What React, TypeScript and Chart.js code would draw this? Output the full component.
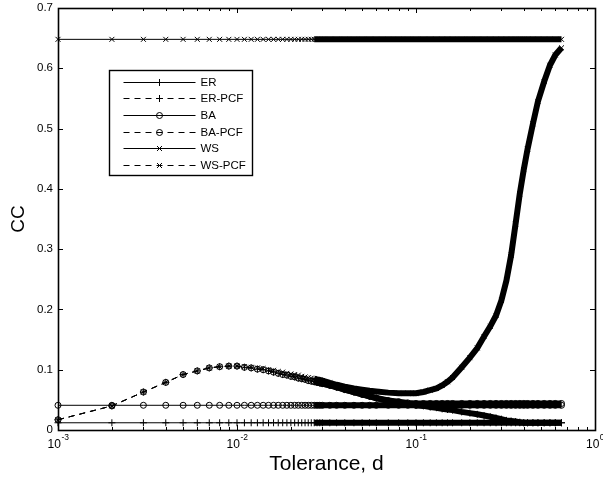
import React, { useEffect, useRef } from "react";
import { Chart, registerables } from "chart.js";

Chart.register(...registerables);

// ---------------- data ----------------
const tolerance = [
  0.001, 0.002, 0.003, 0.004, 0.005, 0.006, 0.007, 0.008, 0.009, 0.010,
  0.011, 0.012, 0.013, 0.014, 0.015, 0.016, 0.017, 0.018, 0.019, 0.020,
  0.021, 0.022, 0.023, 0.024, 0.025, 0.026, 0.027, 0.028, 0.029, 0.030,
  0.033, 0.036, 0.040, 0.045, 0.050, 0.055, 0.060, 0.070, 0.080, 0.090, 0.100,
  0.11, 0.12, 0.13, 0.14, 0.15, 0.16, 0.18, 0.20, 0.22, 0.24,
  0.26, 0.28, 0.30, 0.32, 0.34, 0.36, 0.38, 0.40, 0.42, 0.45,
  0.48, 0.52, 0.56, 0.60, 0.65,
];

const ccER = [
  0.012, 0.012, 0.012, 0.012, 0.012, 0.012, 0.012, 0.012, 0.012, 0.012,
  0.012, 0.012, 0.012, 0.012, 0.012, 0.012, 0.012, 0.012, 0.012, 0.012,
  0.012, 0.012, 0.012, 0.012, 0.012, 0.012, 0.012, 0.012, 0.012, 0.012,
  0.012, 0.012, 0.012, 0.012, 0.012, 0.012, 0.012, 0.012, 0.012, 0.012, 0.012,
  0.012, 0.012, 0.012, 0.012, 0.012, 0.012, 0.012, 0.012, 0.012, 0.012,
  0.012, 0.012, 0.012, 0.012, 0.012, 0.012, 0.012, 0.012, 0.012, 0.012,
  0.012, 0.012, 0.012, 0.012, 0.012,
];

const ccERPCF = [
  0.017, 0.040, 0.063, 0.079, 0.092, 0.098, 0.103, 0.105, 0.106, 0.106,
  0.104, 0.103, 0.101, 0.100, 0.098, 0.096, 0.094, 0.092, 0.091, 0.089,
  0.088, 0.086, 0.085, 0.084, 0.082, 0.081, 0.080, 0.079, 0.078, 0.077,
  0.074, 0.071, 0.067, 0.063, 0.059, 0.056, 0.053, 0.048, 0.045, 0.043, 0.041,
  0.040, 0.038, 0.037, 0.035, 0.034, 0.033, 0.030, 0.028, 0.026, 0.024,
  0.022, 0.020, 0.018, 0.016, 0.015, 0.014, 0.013, 0.012, 0.012, 0.012,
  0.012, 0.012, 0.012, 0.012, 0.012,
];

const ccBA = [
  0.041, 0.041, 0.041, 0.041, 0.041, 0.041, 0.041, 0.041, 0.041, 0.041,
  0.041, 0.041, 0.041, 0.041, 0.041, 0.041, 0.041, 0.041, 0.041, 0.041,
  0.041, 0.041, 0.041, 0.041, 0.041, 0.041, 0.041, 0.041, 0.041, 0.041,
  0.041, 0.041, 0.041, 0.041, 0.041, 0.041, 0.041, 0.041, 0.041, 0.041, 0.041,
  0.041, 0.041, 0.041, 0.041, 0.041, 0.041, 0.041, 0.041, 0.041, 0.041,
  0.041, 0.041, 0.041, 0.041, 0.041, 0.041, 0.041, 0.041, 0.041, 0.041,
  0.041, 0.041, 0.041, 0.041, 0.041,
];

const ccBAPCF = [
  0.017, 0.040, 0.063, 0.079, 0.092, 0.098, 0.103, 0.105, 0.106, 0.106,
  0.104, 0.103, 0.101, 0.100, 0.098, 0.096, 0.094, 0.092, 0.091, 0.089,
  0.088, 0.086, 0.085, 0.084, 0.082, 0.081, 0.080, 0.079, 0.078, 0.077,
  0.074, 0.071, 0.067, 0.063, 0.059, 0.056, 0.053, 0.049, 0.047, 0.045, 0.044,
  0.044, 0.044, 0.044, 0.044, 0.044, 0.044, 0.044, 0.044, 0.044, 0.044,
  0.044, 0.044, 0.044, 0.044, 0.044, 0.044, 0.044, 0.044, 0.044, 0.044,
  0.044, 0.044, 0.044, 0.044, 0.044,
];

const ccWS = [
  0.648, 0.648, 0.648, 0.648, 0.648, 0.648, 0.648, 0.648, 0.648, 0.648,
  0.648, 0.648, 0.648, 0.648, 0.648, 0.648, 0.648, 0.648, 0.648, 0.648,
  0.648, 0.648, 0.648, 0.648, 0.648, 0.648, 0.648, 0.648, 0.648, 0.648,
  0.648, 0.648, 0.648, 0.648, 0.648, 0.648, 0.648, 0.648, 0.648, 0.648, 0.648,
  0.648, 0.648, 0.648, 0.648, 0.648, 0.648, 0.648, 0.648, 0.648, 0.648,
  0.648, 0.648, 0.648, 0.648, 0.648, 0.648, 0.648, 0.648, 0.648, 0.648,
  0.648, 0.648, 0.648, 0.648, 0.648,
];

const ccWSPCF = [
  0.017, 0.040, 0.063, 0.079, 0.092, 0.098, 0.103, 0.105, 0.106, 0.106,
  0.105, 0.104, 0.103, 0.102, 0.100, 0.099, 0.097, 0.096, 0.094, 0.093,
  0.092, 0.091, 0.089, 0.088, 0.087, 0.086, 0.085, 0.084, 0.083, 0.082,
  0.078, 0.075, 0.072, 0.069, 0.067, 0.065, 0.064, 0.062, 0.061, 0.061, 0.061,
  0.063, 0.066, 0.069, 0.074, 0.080, 0.087, 0.104, 0.120, 0.136, 0.155,
  0.172, 0.190, 0.215, 0.248, 0.290, 0.342, 0.392, 0.432, 0.466, 0.508,
  0.545, 0.578, 0.605, 0.622, 0.634,
];

const seriesLabels = ["ER", "ER-PCF", "BA", "BA-PCF", "WS", "WS-PCF"];
const yTicks = [0, 0.1, 0.2, 0.3, 0.4, 0.5, 0.6, 0.7];
const yTickLabels = ["0", "0.1", "0.2", "0.3", "0.4", "0.5", "0.6", "0.7"];
const xTickExponents = ["-3", "-2", "-1", "0"];
const xMinorMultipliers = [2, 3, 4, 5, 6, 7, 8, 9];
const xTitle = "Tolerance, d";
const yTitle = "CC";

// ---------------- styles ----------------
const FONT = '"Liberation Sans", Arial, Helvetica, sans-serif';
const DASH = [6, 5];
const BAND_FROM = 0.027;

type Marker = "cross" | "circle" | "crossRot";
const styles: { marker: Marker; dashed: boolean; r: number }[] = [
  { marker: "cross", dashed: false, r: 3.5 },
  { marker: "cross", dashed: true, r: 3.5 },
  { marker: "circle", dashed: false, r: 3 },
  { marker: "circle", dashed: true, r: 3 },
  { marker: "crossRot", dashed: false, r: 3.5 },
  { marker: "crossRot", dashed: true, r: 3.5 },
];
const seriesValues = [ccER, ccERPCF, ccBA, ccBAPCF, ccWS, ccWSPCF];

function drawMarker(ctx: CanvasRenderingContext2D, m: Marker, x: number, y: number, r: number) {
  ctx.beginPath();
  if (m === "cross") {
    ctx.moveTo(x - r, y);
    ctx.lineTo(x + r, y);
    ctx.moveTo(x, y - r);
    ctx.lineTo(x, y + r);
  } else if (m === "crossRot") {
    const d = r * 0.7071;
    ctx.moveTo(x - d, y - d);
    ctx.lineTo(x + d, y + d);
    ctx.moveTo(x - d, y + d);
    ctx.lineTo(x + d, y - d);
  } else {
    ctx.arc(x, y, r, 0, Math.PI * 2);
  }
  ctx.stroke();
}

const framePlugin = {
  id: "matlabFrame",
  afterDraw(chart: any) {
    const { ctx, chartArea } = chart;
    const { left, right, top, bottom } = chartArea;
    const xs = chart.scales.x;
    const ys = chart.scales.y;
    ctx.save();
    ctx.strokeStyle = "#000";
    ctx.fillStyle = "#000";
    ctx.setLineDash([]);

    // box
    ctx.lineWidth = 1.6;
    ctx.strokeRect(left + 0.5, top + 0.5, right - left, bottom - top);

    // x ticks
    ctx.lineWidth = 1;
    const maj = 5;
    const mnr = 3;
    ctx.beginPath();
    xTickExponents.forEach((e) => {
      const base = Math.pow(10, Number(e));
      const px = Math.round(xs.getPixelForValue(base)) + 0.5;
      ctx.moveTo(px, bottom);
      ctx.lineTo(px, bottom - maj);
      ctx.moveTo(px, top);
      ctx.lineTo(px, top + maj);
      if (Number(e) < 0) {
        xMinorMultipliers.forEach((k) => {
          const mx = Math.round(xs.getPixelForValue(k * base)) + 0.5;
          ctx.moveTo(mx, bottom);
          ctx.lineTo(mx, bottom - mnr);
          ctx.moveTo(mx, top);
          ctx.lineTo(mx, top + mnr);
        });
      }
    });
    // y ticks
    yTicks.forEach((v) => {
      const py = Math.round(ys.getPixelForValue(v)) + 0.5;
      ctx.moveTo(left, py);
      ctx.lineTo(left + maj, py);
      ctx.moveTo(right, py);
      ctx.lineTo(right - maj, py);
    });
    ctx.stroke();

    // y tick labels
    ctx.font = `11.5px ${FONT}`;
    ctx.textAlign = "right";
    ctx.textBaseline = "middle";
    yTicks.forEach((v, i) => {
      const py = ys.getPixelForValue(v);
      ctx.fillText(yTickLabels[i], left - 5, py);
    });

    // x tick labels with superscript exponent
    ctx.textAlign = "left";
    ctx.textBaseline = "alphabetic";
    xTickExponents.forEach((e) => {
      const px = xs.getPixelForValue(Math.pow(10, Number(e)));
      ctx.font = `12px ${FONT}`;
      const w1 = ctx.measureText("10").width;
      ctx.font = `8.5px ${FONT}`;
      const w2 = ctx.measureText(e).width;
      const start = px - (w1 + w2) / 2;
      ctx.font = `12px ${FONT}`;
      ctx.fillText("10", start, bottom + 18);
      ctx.font = `8.5px ${FONT}`;
      ctx.fillText(e, start + w1 + 0.5, bottom + 10);
    });

    // axis titles
    ctx.font = `21px ${FONT}`;
    ctx.textAlign = "center";
    ctx.textBaseline = "alphabetic";
    ctx.fillText(xTitle, (left + right) / 2, bottom + 40);
    ctx.save();
    ctx.translate(19, (top + bottom) / 2);
    ctx.rotate(-Math.PI / 2);
    ctx.font = `19px ${FONT}`;
    ctx.textBaseline = "middle";
    ctx.fillText(yTitle, 0, 0);
    ctx.restore();

    // legend
    const lx = 109.5;
    const ly = 70.5;
    const lw = 143;
    const lh = 105;
    ctx.fillStyle = "#fff";
    ctx.fillRect(lx, ly, lw, lh);
    ctx.strokeStyle = "#000";
    ctx.lineWidth = 1.4;
    ctx.strokeRect(lx, ly, lw, lh);
    ctx.lineWidth = 1;
    ctx.font = `11.5px ${FONT}`;
    ctx.textAlign = "left";
    ctx.textBaseline = "middle";
    seriesLabels.forEach((name, i) => {
      const st = styles[i];
      const yy = Math.round(ly + 11 + i * 16.7) + 0.5;
      ctx.strokeStyle = "#000";
      ctx.setLineDash(st.dashed ? DASH : []);
      ctx.beginPath();
      ctx.moveTo(lx + 14, yy);
      ctx.lineTo(lx + 86, yy);
      ctx.stroke();
      ctx.setLineDash([]);
      drawMarker(ctx, st.marker, lx + 50, yy, st.r);
      ctx.fillStyle = "#000";
      ctx.fillText(name, lx + 91, yy);
    });
    ctx.restore();
  },
};

export default function App() {
  const canvasRef = useRef<HTMLCanvasElement | null>(null);

  useEffect(() => {
    const canvas = canvasRef.current;
    if (!canvas) return;
    const datasets = seriesLabels.map((label, i) => {
      const st = styles[i];
      const dash = st.dashed ? DASH : [];
      return {
        label,
        data: tolerance.map((x, j) => ({ x, y: seriesValues[i][j] })),
        borderColor: "#000",
        backgroundColor: "rgba(0,0,0,0)",
        borderWidth: 1,
        borderDash: dash,
        pointStyle: st.marker,
        pointRadius: st.r,
        pointBorderWidth: 1,
        pointBorderColor: "#000",
        pointBackgroundColor: "rgba(0,0,0,0)",
        pointHoverRadius: st.r,
        fill: false,
        tension: 0,
        clip: false,
        segment: {
          borderWidth: (ctx: any) => (ctx.p0.parsed.x >= BAND_FROM ? 6 : 1),
          borderDash: (ctx: any) => (ctx.p0.parsed.x >= BAND_FROM ? [] : dash),
        },
      };
    });

    const chart = new Chart(canvas, {
      type: "line",
      data: { datasets } as any,
      options: {
        responsive: false,
        animation: false,
        events: [],
        layout: { padding: { left: 58, right: 8, top: 8, bottom: 50 } },
        scales: {
          x: { type: "logarithmic", min: 0.001, max: 1, display: false },
          y: { type: "linear", min: 0, max: 0.7, display: false },
        },
        plugins: {
          legend: { display: false },
          tooltip: { enabled: false },
        },
      } as any,
      plugins: [framePlugin],
    });
    return () => chart.destroy();
  }, []);

  return (
    <div style={{ position: "absolute", left: 0, top: 0, width: 603, height: 480, background: "#fff" }}>
      <canvas ref={canvasRef} width={603} height={480} style={{ display: "block" }} />
    </div>
  );
}
